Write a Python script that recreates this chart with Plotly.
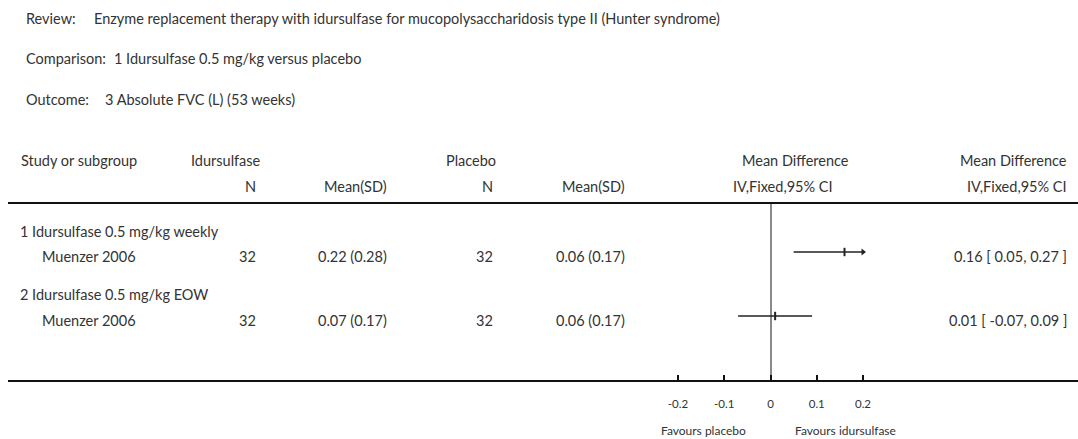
import plotly.graph_objects as go

# ---------------- data ----------------
review = "Enzyme replacement therapy with idursulfase for mucopolysaccharidosis type II (Hunter syndrome)"
comparison = "1 Idursulfase 0.5 mg/kg versus placebo"
outcome = "3 Absolute FVC (L) (53 weeks)"

subgroups = ["1 Idursulfase 0.5 mg/kg weekly", "2 Idursulfase 0.5 mg/kg EOW"]
studies = ["Muenzer 2006", "Muenzer 2006"]
trt_n = [32, 32]
trt_mean = [0.22, 0.07]
trt_sd = [0.28, 0.17]
ctl_n = [32, 32]
ctl_mean = [0.06, 0.06]
ctl_sd = [0.17, 0.17]
md = [0.16, 0.01]
ci_lo = [0.05, -0.07]
ci_hi = [0.27, 0.09]

tick_vals = [-0.2, -0.1, 0, 0.1, 0.2]
tick_text = ["-0.2", "-0.1", "0", "0.1", "0.2"]
fav_left = "Favours placebo"
fav_right = "Favours idursulfase"

# ---------------- layout constants ----------------
W, H = 1078, 439
FONT = "Lato, 'Open Sans', sans-serif"
TXT = "#333333"
BODY = 14.5
X0_PX, PX_PER_UNIT = 770.5, 462.5          # pixel of 0 and scale
AX_L, AX_R = 8, 1078                       # horizontal extent of rules
TOP_RULE, BOT_RULE = 204, 380              # pixel rows of rules
AX_MIN, AX_MAX = tick_vals[0], tick_vals[-1]

sub_y = [231, 294]
study_y = [256, 320]


def px(x):
    return x / W


def py(y):
    return 1 - y / H


fig = go.Figure()

# CI lines, point estimates, arrows (through data axis)
for i in range(len(studies)):
    lo = max(ci_lo[i], AX_MIN)
    hi = min(ci_hi[i], AX_MAX)
    yv = study_y[i] - 4
    fig.add_trace(go.Scatter(x=[lo, hi], y=[yv, yv], mode="lines",
                             line=dict(color="#222222", width=1.5),
                             hoverinfo="skip", showlegend=False))
    fig.add_trace(go.Scatter(x=[md[i]], y=[yv], mode="markers",
                             marker=dict(symbol="line-ns", size=6,
                                         line=dict(color="#222222", width=2)),
                             hoverinfo="skip", showlegend=False))
    if ci_hi[i] > AX_MAX:
        fig.add_trace(go.Scatter(x=[AX_MAX], y=[yv], mode="markers",
                                 marker=dict(symbol="triangle-right", size=6,
                                             color="#222222"),
                                 hoverinfo="skip", showlegend=False))
    if ci_lo[i] < AX_MIN:
        fig.add_trace(go.Scatter(x=[AX_MIN], y=[yv], mode="markers",
                                 marker=dict(symbol="triangle-left", size=6,
                                             color="#222222"),
                                 hoverinfo="skip", showlegend=False))

ann = []


def text(x, y, s, anchor="left", size=BODY):
    ann.append(dict(x=px(x), y=py(y), xref="paper", yref="paper", text=s,
                    showarrow=False, xanchor=anchor, yanchor="middle",
                    font=dict(family=FONT, size=size, color=TXT)))


# title block
text(24, 19, "Review:")
text(92, 19, review)
text(24, 59, "Comparison:")
text(112, 59, comparison)
text(24, 99, "Outcome:")
text(103, 99, outcome)

# headers
text(19, 160, "Study or subgroup")
text(189, 160, "Idursulfase")
text(444, 160, "Placebo")
text(795, 160, "Mean Difference", "center")
text(1069, 160, "Mean Difference", "right")
text(258, 186, "N", "right")
text(389, 186, "Mean(SD)", "right")
text(495, 186, "N", "right")
text(627, 186, "Mean(SD)", "right")
text(783, 186, "IV,Fixed,95% CI", "center")
text(1069, 186, "IV,Fixed,95% CI", "right")

# rows
for i in range(len(studies)):
    text(18, sub_y[i], subgroups[i])
    text(40, study_y[i], studies[i])
    text(258, study_y[i], str(trt_n[i]), "right")
    text(389, study_y[i], f"{trt_mean[i]:.2f} ({trt_sd[i]:.2f})", "right")
    text(495, study_y[i], str(ctl_n[i]), "right")
    text(627, study_y[i], f"{ctl_mean[i]:.2f} ({ctl_sd[i]:.2f})", "right")
    text(1069, study_y[i], f"{md[i]:.2f} [ {ci_lo[i]:.2f}, {ci_hi[i]:.2f} ]", "right")

# favours labels
text(703, 430, fav_left, "center", 12)
text(845, 430, fav_right, "center", 12)

x_lo = (AX_L - X0_PX) / PX_PER_UNIT
x_hi = (AX_R - X0_PX) / PX_PER_UNIT

fig.update_layout(
    width=W, height=H,
    margin=dict(l=0, r=0, t=0, b=0),
    paper_bgcolor="white", plot_bgcolor="white",
    annotations=ann,
    xaxis=dict(domain=[px(AX_L), px(AX_R)], range=[x_lo, x_hi],
               showgrid=False, zeroline=True, zerolinecolor="#8a8a8a",
               zerolinewidth=1.5, showline=True, linecolor="#111111",
               linewidth=2, mirror=True, ticks="inside", ticklen=5,
               tickwidth=1.5, tickcolor="#111111",
               tickvals=tick_vals, ticktext=tick_text,
               ticklabelstandoff=12,
               tickfont=dict(family=FONT, size=11.5, color=TXT),
               fixedrange=True),
    yaxis=dict(domain=[py(BOT_RULE), py(TOP_RULE)],
               range=[BOT_RULE, TOP_RULE], visible=False,
               showgrid=False, zeroline=False, fixedrange=True),
)

fig.write_html("out.html", config={"displayModeBar": False},
               post_script="document.body.style.margin='0';document.body.style.overflow='hidden';")
